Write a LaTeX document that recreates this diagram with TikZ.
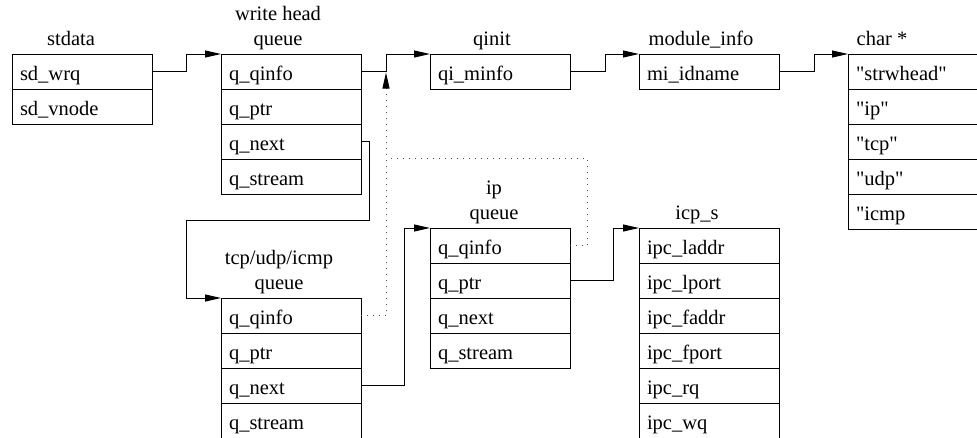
\documentclass[tikz,border=0pt]{standalone}
\usepackage{fontspec}
\setmainfont{Liberation Serif}
\usepackage{tikz}
\usetikzlibrary{arrows.meta,positioning}
\newcommand{\boxfont}{\fontsize{20.5}{25}\selectfont}

\begin{document}
\begin{tikzpicture}[x=1pt,y=-1pt,line width=1pt,>={Triangle[length=16pt,width=7pt]},
  cell/.style={rectangle,draw,minimum width=140pt,minimum height=35pt,text width=124pt,
    inner xsep=8pt,inner ysep=0pt,outer sep=0pt,text height=17pt,text depth=0pt,
    align=left,font=\boxfont},
  title/.style={inner sep=0pt,align=center,text depth=4.5pt,font=\boxfont},
  ptr/.style={->},
  weak/.style={black!70,dash pattern=on 1pt off 5pt}]
  \useasboundingbox (0,0) rectangle (977,437);

  \node[cell,anchor=north west] (sd1) at (12,54) {sd\_wrq};
  \node[cell,below=0pt of sd1] (sd2) {sd\_vnode};
  \node[title,above=3.5pt of sd1.north,xshift=-11pt] (sdt) {stdata};

  \node[cell,anchor=north west] (wq1) at (221,54) {q\_qinfo};
  \node[cell,below=0pt of wq1] (wq2) {q\_ptr};
  \node[cell,below=0pt of wq2] (wq3) {q\_next};
  \node[cell,below=0pt of wq3] (wq4) {q\_stream};
  \node[title,above=3.5pt of wq1.north,xshift=-13pt] (wqt) {write head\\queue};

  \node[cell,anchor=north west] (qi1) at (430,54) {qi\_minfo};
  \node[title,above=3.5pt of qi1.north,xshift=-8pt] (qit) {qinit};

  \node[cell,anchor=north west] (mi1) at (639,54) {mi\_idname};
  \node[title,above=3.5pt of mi1.north,xshift=-8pt] (mit) {module\_info};

  \node[cell,anchor=north west] (ch1) at (848,54) {\textquotedbl strwhead\textquotedbl};
  \node[cell,below=0pt of ch1] (ch2) {\textquotedbl ip\textquotedbl};
  \node[cell,below=0pt of ch2] (ch3) {\textquotedbl tcp\textquotedbl};
  \node[cell,below=0pt of ch3] (ch4) {\textquotedbl udp\textquotedbl};
  \node[cell,below=0pt of ch4] (ch5) {\textquotedbl icmp};
  \node[title,above=3.5pt of ch1.north west,xshift=34pt] (cht) {char *};

  \node[cell,anchor=north west] (ip1) at (430,228) {q\_qinfo};
  \node[cell,below=0pt of ip1] (ip2) {q\_ptr};
  \node[cell,below=0pt of ip2] (ip3) {q\_next};
  \node[cell,below=0pt of ip3] (ip4) {q\_stream};
  \node[title,above=3.5pt of ip1.north,xshift=-6pt] (ipt) {ip\\queue};

  \node[cell,anchor=north west] (ic1) at (639,228) {ipc\_laddr};
  \node[cell,below=0pt of ic1] (ic2) {ipc\_lport};
  \node[cell,below=0pt of ic2] (ic3) {ipc\_faddr};
  \node[cell,below=0pt of ic3] (ic4) {ipc\_fport};
  \node[cell,below=0pt of ic4] (ic5) {ipc\_rq};
  \node[cell,below=0pt of ic5] (ic6) {ipc\_wq};
  \node[title,above=3.5pt of ic1.north,xshift=-12pt] (ict) {icp\_s};

  \node[cell,anchor=north west] (tq1) at (221,298) {q\_qinfo};
  \node[cell,below=0pt of tq1] (tq2) {q\_ptr};
  \node[cell,below=0pt of tq2] (tq3) {q\_next};
  \node[cell,below=0pt of tq3] (tq4) {q\_stream};
  \node[title,above=3.5pt of tq1.north,xshift=-12pt] (tqt) {tcp/udp/icmp\\queue};

  \coordinate (wbend) at (186,220);
  \coordinate (qtip) at (386,72.5);
  \coordinate (qjoin) at (386,158);

  \draw[ptr] (sd1.east) -- ++(34,0) |- (wq1.north west);
  \draw[ptr] (wq1.east) -- ++(25,0) |- (qi1.north west);
  \draw[ptr] (qi1.east) -- ++(35,0) |- (mi1.north west);
  \draw[ptr] (mi1.east) -- ++(35,0) |- (ch1.north west);
  \draw[ptr] (wq3.east) -- ++(8,0) |- (wbend) |- (tq1.north west);
  \draw[ptr] (tq3.east) -- ++(43,0) |- (ip1.north west);
  \draw[ptr] (ip2.east) -- ++(43,0) |- (ic1.north west);

  \draw[weak,-{Triangle[length=16pt,width=7pt,black]}] (tq1.east) -| (qtip);
  \draw[weak] (ip1.east) -- ++(17,0) |- (qjoin);
\end{tikzpicture}
\end{document}
